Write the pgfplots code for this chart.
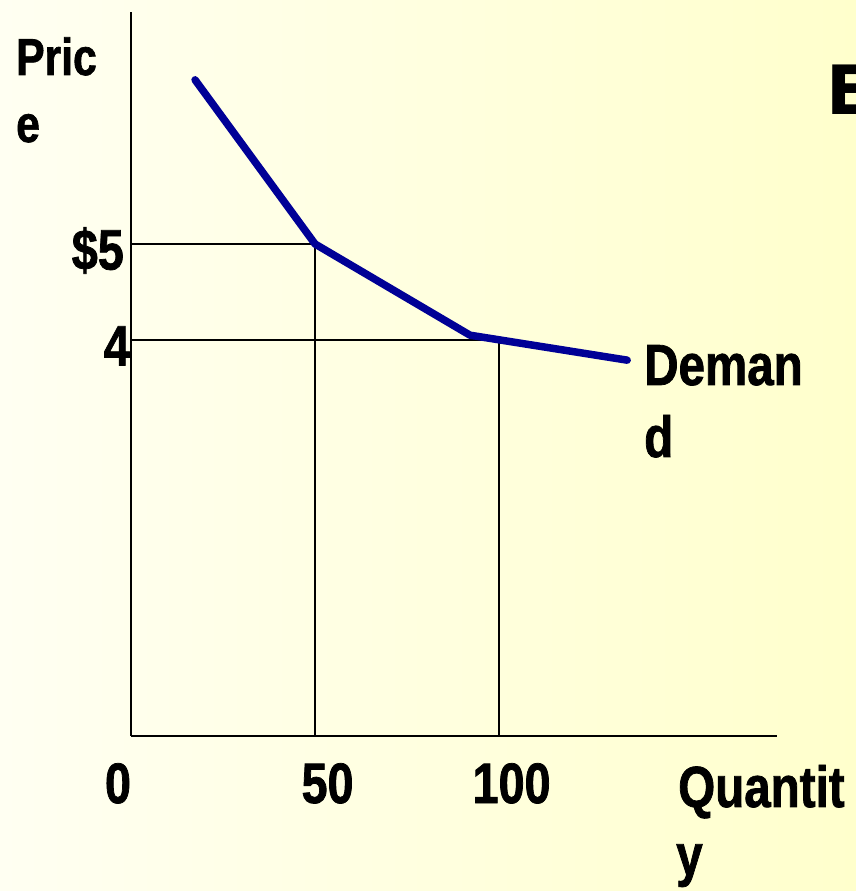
\documentclass[border=0pt]{standalone}
\usepackage{pgfplots}
\pgfplotsset{compat=1.18}
\usepackage{fontspec}
\setmainfont{Liberation Sans}
\newfontfamily\nb{Liberation Sans}[FakeStretch=0.82, BoldFeatures={FakeBold=1.3}]
\newfontfamily\wide{DejaVu Sans}
\definecolor{curveblue}{RGB}{0,0,150}
\definecolor{bgleft}{RGB}{255,255,242}
\definecolor{bgright}{RGB}{255,255,204}
\begin{document}
\begin{tikzpicture}[x=1pt,y=1pt]
\path[use as bounding box] (0,0) rectangle (856,891);
\clip (0,0) rectangle (856,891);
\shade[left color=bgleft, right color=bgright] (0,0) rectangle (856,891);
\begin{axis}[
  at={(131pt,155pt)}, anchor=south west,
  scale only axis, width=646pt, height=724pt,
  xmin=0, xmax=175.5, ymin=-0.125, ymax=7.4167,
  axis lines*=left,
  axis line style={line width=2pt, black},
  major tick length=0pt,
  /pgf/number format/assume math mode=true,
  xtick={50,100}, xticklabels={50,100},
  xticklabel style={font=\nb\bfseries\fontsize{57}{57}\selectfont, anchor=base, inner sep=0pt, yshift=-67pt, xshift=12.5pt},
  extra x ticks={0}, extra x tick labels={0},
  extra x tick style={xticklabel style={xshift=-25.5pt}},
  ytick={5,4}, yticklabels={\$5\kern6pt, 4},
  yticklabel style={font=\nb\bfseries\fontsize{57}{57}\selectfont, anchor=base east, inner sep=0pt, xshift=-1pt, yshift=-25.5pt},
  clip=false,
]
\addplot[black, line width=1.6pt] coordinates {(0,5) (50,5) (50,-0.125)};
\addplot[black, line width=1.6pt] coordinates {(0,4) (100,4) (100,-0.125)};
\addplot[curveblue, line width=7.5pt, line cap=round, line join=round]
  coordinates {(17.4,6.71) (50,5) (92.1,4.05) (134.8,3.79)};
\end{axis}
\begin{scope}[every node/.style={inner sep=0pt, anchor=base west}]
\node[font=\nb\bfseries\fontsize{52}{52}\selectfont] at (16,816) {Pric};
\node[font=\nb\bfseries\fontsize{52}{52}\selectfont] at (16,749) {e};
\node[font=\nb\bfseries\fontsize{58}{58}\selectfont] at (644,506) {Deman};
\node[font=\nb\bfseries\fontsize{58}{58}\selectfont] at (644,434) {d};
\node[font=\nb\bfseries\fontsize{58}{58}\selectfont] at (678,84) {Quantit};
\node[font=\nb\bfseries\fontsize{58}{58}\selectfont] at (676,16) {y};
\node[font=\wide\bfseries\fontsize{68}{68}\selectfont] at (826,776) {E};
\end{scope}
\end{tikzpicture}
\end{document}
